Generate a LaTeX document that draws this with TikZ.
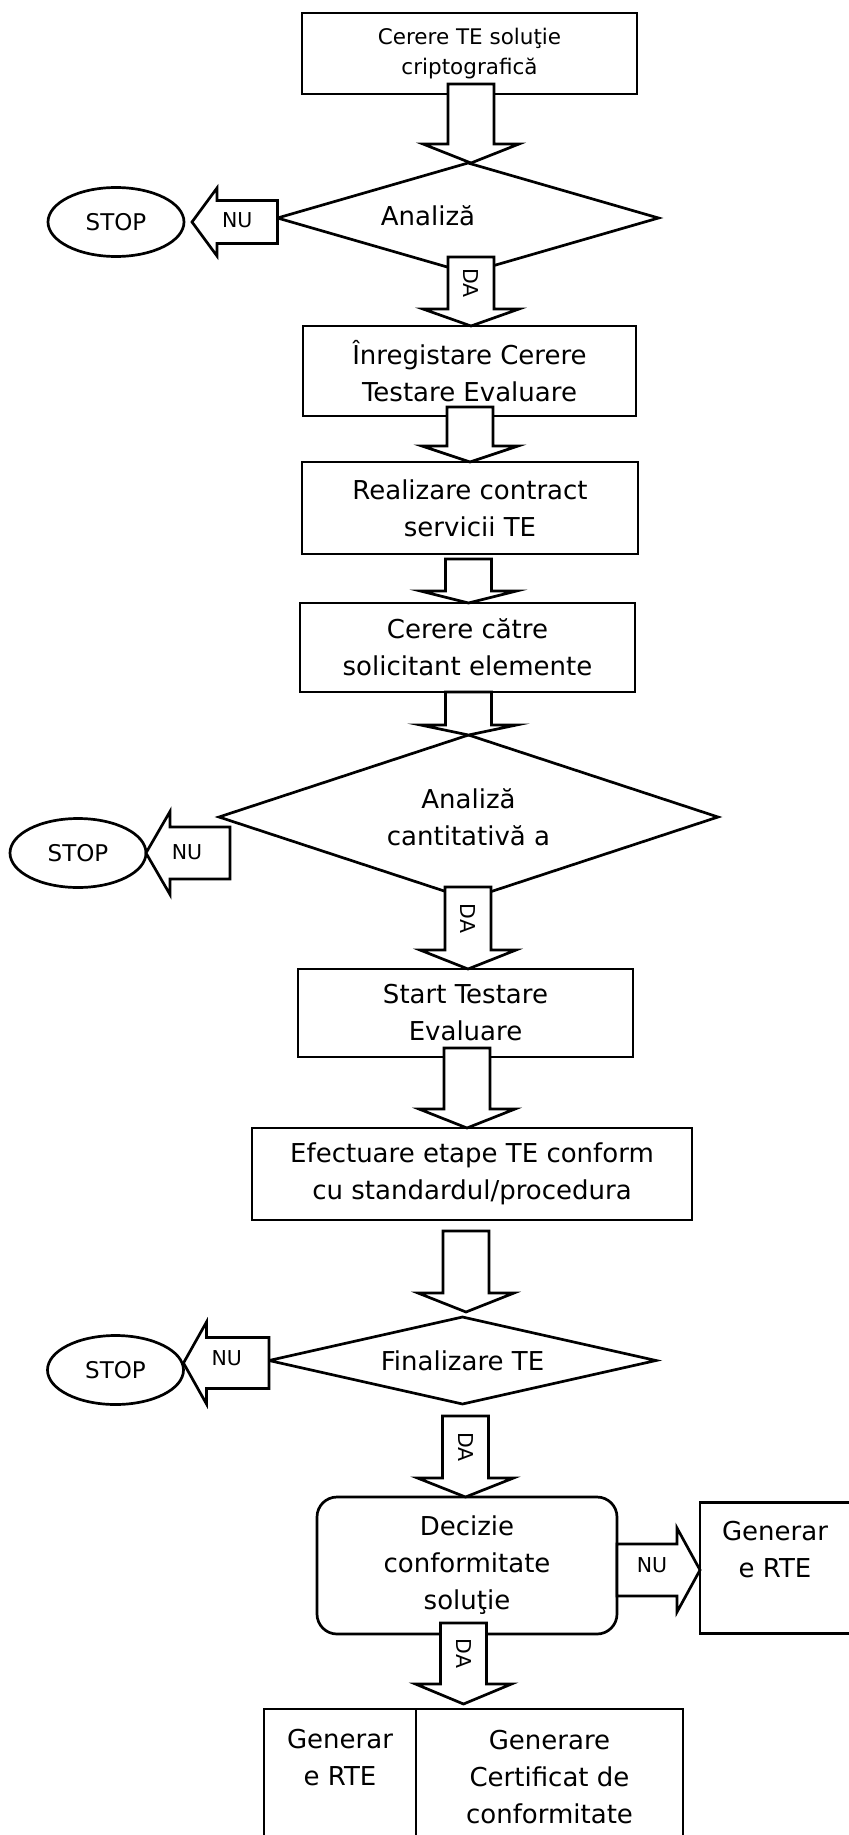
\documentclass[tikz,border=0pt]{standalone}
\usepackage{fontspec}
\setmainfont{DejaVu Sans}
\usetikzlibrary{calc,shapes.geometric}

\tikzset{
  lw/.style={line width=2.7pt},
  stepbox/.style={draw, lw, rectangle, inner sep=0pt, outer sep=0pt, align=center,
                  font=\fontsize{26}{37}\selectfont},
  decision/.style={draw, lw, diamond, inner sep=0pt, outer sep=0pt, align=center,
                   font=\fontsize{26}{37}\selectfont},
  stopnode/.style={draw, lw, ellipse, inner sep=0pt, outer sep=0pt,
                   minimum width=136, minimum height=69,
                   font=\fontsize{23}{27}\selectfont},
  txt/.style={align=center, inner sep=0pt, font=\fontsize{26}{37}\selectfont},
  blk/.style={draw, lw, fill=white, line join=miter},
  lbl/.style={inner sep=0pt, font=\fontsize{20.5}{24}\selectfont},
}

% downward block arrow: #1 shaft start, #2 tip, #3 head length, #4 label
\newcommand\flowdown[4]{%
  \draw[blk] let \p1=#1, \p2=#2 in
    (\x2-23pt,\y1) -- (\x2+23pt,\y1) -- (\x2+23pt,\y2+#3) -- (\x2+48pt,\y2+#3)
    -- (\x2,\y2) -- (\x2-48pt,\y2+#3) -- (\x2-23pt,\y2+#3) -- cycle
    (\x2,{(\y1+\y2+#3)/2}) node[lbl,rotate=-90] {#4};}

% leftward block arrow: #1 shaft start, #2 tip, #3 shaft half, #4 head half,
% #5 head length, #6 label, #7 label shift
\newcommand\flowleft[7]{%
  \draw[blk] let \p1=#1, \p2=#2 in
    (\x1,\y2+#3) -- (\x1,\y2-#3) -- (\x2+#5,\y2-#3) -- (\x2+#5,\y2-#4)
    -- (\x2,\y2) -- (\x2+#5,\y2+#4) -- (\x2+#5,\y2+#3) -- cycle
    ({(\x1+\x2+#5)/2},\y2) node[lbl,#7] {#6};}

% rightward block arrow, same arguments
\newcommand\flowright[7]{%
  \draw[blk] let \p1=#1, \p2=#2 in
    (\x1,\y2+#3) -- (\x2-#5,\y2+#3) -- (\x2-#5,\y2+#4) -- (\x2,\y2)
    -- (\x2-#5,\y2-#4) -- (\x2-#5,\y2-#3) -- (\x1,\y2-#3) -- cycle
    ({(\x1+\x2-#5)/2},\y2) node[lbl,#7] {#6};}

\begin{document}
\begin{tikzpicture}[x=1pt,y=-1pt]
\fill[white] (0,0) rectangle (848,1835);
\useasboundingbox (0,0) rectangle (848,1835);

% process steps, decisions and terminals
\node[stepbox, font=\fontsize{21.5}{30}\selectfont, minimum width=335, minimum height=81]
  (b1) at (469.5,53.5) {Cerere TE soluţie\\criptografică};
\node[decision, minimum width=381, minimum height=110, aspect=3.46] (d1) at (468,218) {};
\node[txt] (t1) at (428,216) {Analiză};
\node[stopnode] (s1) at (116,222) {STOP};

\node[stepbox, minimum width=333, minimum height=90] (b2) at (469.5,371)
  {Înregistare Cerere\\Testare Evaluare};
\node[stepbox, minimum width=336, minimum height=92] (b3) at (470,508)
  {Realizare contract\\servicii TE};
\node[stepbox, minimum width=335, minimum height=89] (b4) at (467.5,647.5)
  {Cerere către\\solicitant elemente};

\node[decision, minimum width=499, minimum height=164, aspect=3.04] (d2) at (468.5,817)
  {Analiză\\cantitativă a};
\node[stopnode] (s2) at (78,853) {STOP};

\node[stepbox, minimum width=335, minimum height=88] (b5) at (465.5,1013)
  {Start Testare\\Evaluare};
\node[stepbox, minimum width=440, minimum height=92] (b6) at (472,1174)
  {Efectuare etape TE conform\\cu standardul/procedura};

\node[decision, minimum width=387, minimum height=87, aspect=4.45] (d3) at (462.5,1360.5)
  {Finalizare TE};
\node[stopnode] (s3) at (115.5,1370) {STOP};

\node[stepbox, rounded corners=20, minimum width=300, minimum height=137] (dz)
  at (467,1565.5) {Decizie\\conformitate\\soluţie};
\node[stepbox, anchor=west, minimum width=180, minimum height=131] (gr) at (700,1568) {};
\node[txt] (grt) at (775,1550) {Generar\\e RTE};

\node[stepbox, anchor=north west, minimum width=152, minimum height=200] (g1) at (264,1709) {};
\node[stepbox, anchor=north west, minimum width=267, minimum height=200] (g2) at (416,1709) {};
\node[txt] (g1t) at (340,1758) {Generar\\e RTE};
\node[txt] (g2t) at (549.5,1777) {Generare\\Certificat de\\conformitate};

% block arrows between the steps
\flowdown{($(b1.south)+(0,-10)$)}{($(d1.north)+(3,0)$)}{19pt}{}
\flowdown{($(d1.south)+(0,-16)$)}{($(b2.north)+(1.5,0)$)}{17pt}{DA}
\flowdown{($(b2.south)+(0,-9)$)}{(b3.north)}{16pt}{}
\flowdown{($(b3.south)+(0,5)$)}{($(b4.north)+(1,0)$)}{12pt}{}
\flowdown{(b4.south)}{(d2.north)}{10pt}{}
\flowdown{($(d2.south)+(0,-12)$)}{($(b5.north)+(2.5,0)$)}{19pt}{DA}
\flowdown{($(b5.south)+(0,-9)$)}{($(b6.north)+(-5,0)$)}{19pt}{}
\flowdown{($(b6.south)+(0,11)$)}{($(d3.north)+(3.5,-5)$)}{19pt}{}
\flowdown{($(d3.south)+(0,12)$)}{($(dz.north)+(-1.5,0)$)}{19pt}{DA}
\flowdown{($(dz.south)+(0,-11)$)}{($(g1.north east)+(47.5,-5)$)}{20pt}{DA}

\flowleft{(d1.west)}{($(s1.east)+(8,0)$)}{21.5pt}{34pt}{25pt}{NU}{xshift=-10pt,yshift=2pt}
\flowleft{($(d2.west)+(11,0)$)}{(s2.east)}{26pt}{41.5pt}{24pt}{NU}{xshift=-13pt,yshift=1pt}
\flowleft{(d3.west)}{($(s3.east)+(0,-7)$)}{25.5pt}{41pt}{23pt}{NU}{xshift=-11pt,yshift=5pt}
\flowright{(dz.east)}{($(gr.west)+(0,2)$)}{26pt}{42pt}{23pt}{NU}{xshift=5pt,yshift=5pt}
\end{tikzpicture}
\end{document}
